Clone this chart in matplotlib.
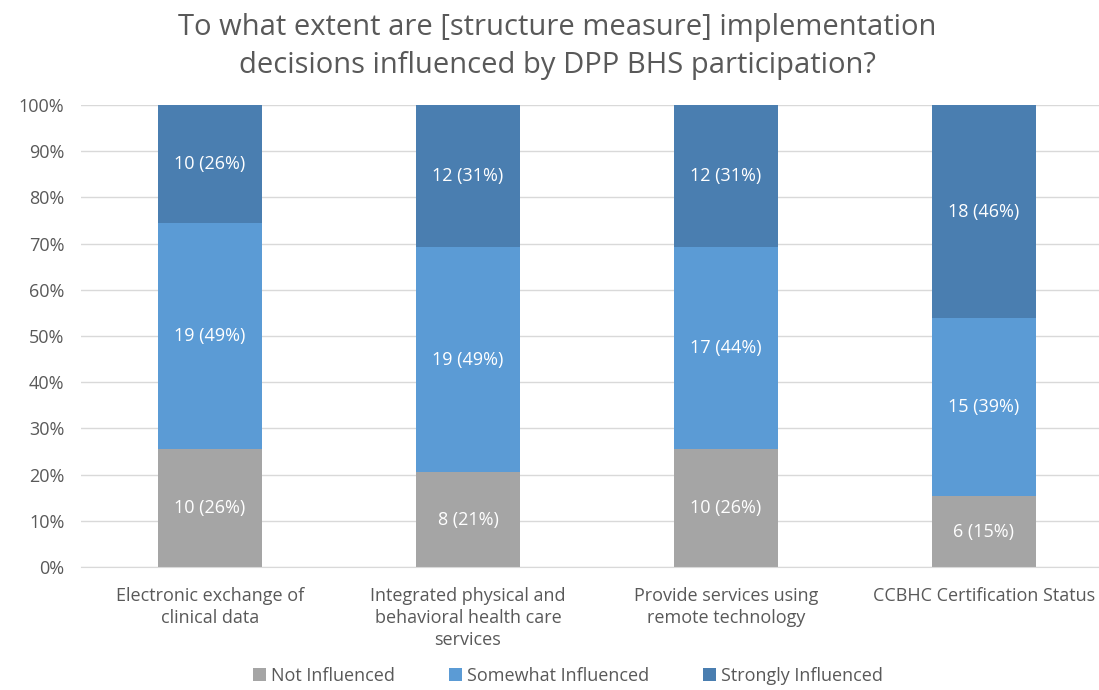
import matplotlib.pyplot as plt
import numpy as np
from matplotlib.ticker import PercentFormatter

categories = ["Electronic exchange of\nclinical data",
              "Integrated physical and\nbehavioral health care\nservices",
              "Provide services using\nremote technology",
              "CCBHC Certification Status"]
series = ["Not Influenced", "Somewhat Influenced", "Strongly Influenced"]
not_influenced = [10, 8, 10, 6]
somewhat = [19, 19, 17, 15]
strongly = [10, 12, 12, 18]
pct_labels = [["26%", "21%", "26%", "15%"],
              ["49%", "49%", "44%", "39%"],
              ["26%", "31%", "31%", "46%"]]
colors = ["#A5A5A5", "#5B9BD5", "#4A7EB0"]

plt.rcParams['font.family'] = ['Open Sans', 'DejaVu Sans']

counts = np.array([not_influenced, somewhat, strongly], dtype=float)
shares = counts / counts.sum(axis=0) * 100

fig = plt.figure(figsize=(10.99, 6.90), dpi=100)
ax = fig.add_axes([0.0737, 0.178, 0.939, 0.670])

x = np.arange(len(categories))
bottom = np.zeros(len(categories))
handles = []
for i, name in enumerate(series):
    bars = ax.bar(x, shares[i], 0.4, bottom=bottom, color=colors[i], label=name, zorder=2)
    handles.append(bars)
    for j, b in enumerate(bars):
        ax.text(b.get_x() + b.get_width() / 2, bottom[j] + shares[i][j] / 2,
                f"{int(counts[i][j])} ({pct_labels[i][j]})",
                ha='center', va='center', color='white', fontsize=13)
    bottom += shares[i]

ax.set_xlim(-0.5, 3.5)
ax.set_ylim(0, 100)
ax.set_yticks(np.arange(0, 101, 10))
ax.yaxis.set_major_formatter(PercentFormatter(decimals=0))
ax.grid(axis='y', color='#D9D9D9', linewidth=1, zorder=0)
ax.set_xticks(x)
ax.set_xticklabels(categories, linespacing=1.3)
ax.tick_params(axis='both', length=0, colors='#595959', labelsize=13)
ax.tick_params(axis='x', pad=14)
ax.tick_params(axis='y', pad=12)
for s in ['top', 'right', 'left']:
    ax.spines[s].set_visible(False)
ax.spines['bottom'].set_color('#D9D9D9')

fig.text(0.507, 0.933, "To what extent are [structure measure] implementation\ndecisions influenced by DPP BHS participation?",
         ha='center', va='center', fontsize=21, color='#595959', linespacing=1.4)

fig.legend(handles=handles, labels=series, loc='center', bbox_to_anchor=(0.517, 0.021),
           ncol=3, frameon=False, fontsize=13, handlelength=0.7, handleheight=0.7,
           columnspacing=3.0, handletextpad=0.3, labelcolor='#595959')

fig.savefig("out.png", dpi=100)
